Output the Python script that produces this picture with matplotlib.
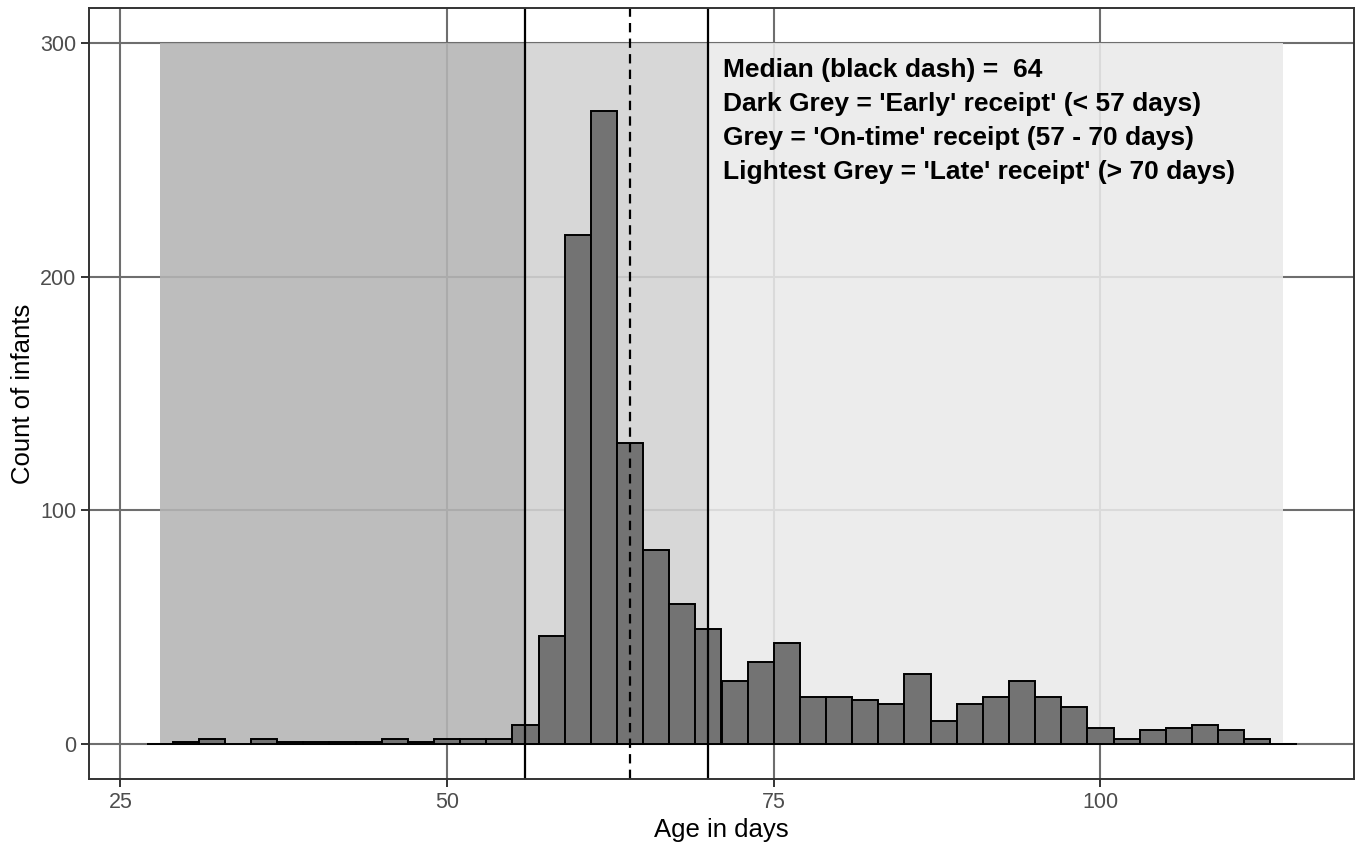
import matplotlib.pyplot as plt
import numpy as np

plt.rcParams['font.family'] = ['Liberation Sans', 'DejaVu Sans']

# histogram data (2-day bins, left edges)
bin_left = list(range(27, 115, 2))
counts = [0, 1, 2, 0, 2, 1, 1, 1, 1, 2, 1, 2, 2, 2, 8,
          46, 218, 271, 129, 83, 60, 49, 27, 35, 43, 20, 20, 19, 17, 30,
          10, 17, 20, 27, 20, 16, 7, 2, 6, 7, 8, 6, 2, 0]
bin_width = 2

# receipt windows (start, end, colour)
windows = [(28, 56, '#b4b4b4'), (56, 70, '#d2d2d2'), (70, 114, '#eaeaea')]
cutoffs = [56, 70]
median_age = 64
ymax_rect = 300

notes = ["Median (black dash) =  64",
         "Dark Grey = 'Early' receipt' (< 57 days)",
         "Grey = 'On-time' receipt (57 - 70 days)",
         "Lightest Grey = 'Late' receipt' (> 70 days)"]

fig = plt.figure(figsize=(13.61, 8.44), dpi=100)
ax = fig.add_axes([89 / 1361, 1 - 779 / 844, (1354 - 89) / 1361, (779 - 8) / 844])

# grid lines first so the shaded windows tint them
for x in [25, 50, 75, 100]:
    ax.axvline(x, color='#6e6e6e', lw=1.5, zorder=0)
for y in [0, 100, 200, 300]:
    ax.axhline(y, color='#6e6e6e', lw=1.5, zorder=0)

for x0, x1, c in windows:
    ax.add_patch(plt.Rectangle((x0, 0), x1 - x0, ymax_rect, facecolor=c,
                               edgecolor='none', alpha=0.875, zorder=1))

ax.bar(bin_left, counts, width=bin_width, align='edge', color='#737373',
       edgecolor='black', linewidth=1.4, zorder=2)

for x in cutoffs:
    ax.axvline(x, color='black', lw=1.6, zorder=3)
ax.axvline(median_age, color='black', lw=1.6, linestyle=(0, (4.2, 2.8)), zorder=3)

ax.text(71.1, 293.5, "\n".join(notes), fontsize=19, fontweight='bold',
        va='top', ha='left', linespacing=1.52, zorder=4)

ax.set_xlim(22.6, 119.4)
ax.set_ylim(-15, 315)
ax.set_xticks([25, 50, 75, 100])
ax.set_yticks([0, 100, 200, 300])
ax.tick_params(length=6, width=1.4, color='#333333', labelcolor='#4d4d4d',
               labelsize=15.5, pad=3)
for s in ax.spines.values():
    s.set_color('#333333')
    s.set_linewidth(1.4)
    s.set_zorder(5)

ax.set_xlabel("Age in days", fontsize=18.5, labelpad=4)
ax.set_ylabel("Count of infants", fontsize=18.5, labelpad=4)

fig.savefig("out.png", dpi=100)
